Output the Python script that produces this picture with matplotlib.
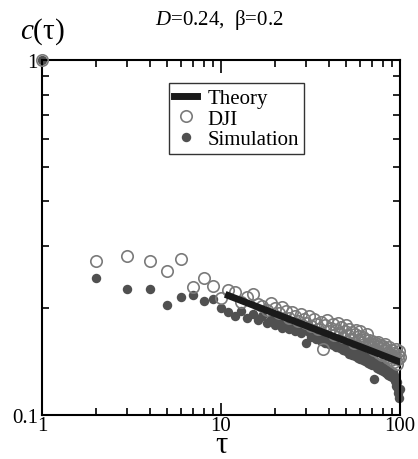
# coding:utf-8
"""
c(tau) for DJI vs simulation, log-log, with theory line
"""

import matplotlib.pyplot as plt
import matplotlib.ticker as ticker

plt.rcParams['font.family'] = ['Liberation Serif', 'DejaVu Serif']
plt.rcParams['mathtext.fontset'] = 'custom'
plt.rcParams['mathtext.it'] = 'Liberation Serif:italic'
plt.rcParams['mathtext.rm'] = 'Liberation Serif'

# tau = 1..11 read one by one, then 12..100
tau = list(range(1, 101))

dji_c = [1.0, 0.271, 0.280, 0.271, 0.255, 0.276, 0.229, 0.244, 0.231, 0.213, 0.225,
         0.222, 0.208, 0.215, 0.219, 0.206, 0.203, 0.198, 0.207, 0.200,
         0.194, 0.201, 0.196, 0.188, 0.195, 0.190, 0.184, 0.193, 0.187, 0.182,
         0.190, 0.178, 0.186, 0.181, 0.175, 0.183, 0.153, 0.179, 0.185, 0.172,
         0.176, 0.181, 0.168, 0.174, 0.182, 0.170, 0.177, 0.166, 0.173, 0.179,
         0.168, 0.175, 0.164, 0.171, 0.160, 0.169, 0.174, 0.163, 0.167, 0.172,
         0.161, 0.166, 0.158, 0.164, 0.169, 0.157, 0.163, 0.160, 0.155, 0.162,
         0.158, 0.152, 0.160, 0.156, 0.161, 0.150, 0.157, 0.154, 0.148, 0.156,
         0.152, 0.158, 0.147, 0.153, 0.150, 0.145, 0.155, 0.149, 0.143, 0.152,
         0.147, 0.141, 0.150, 0.145, 0.153, 0.139, 0.148, 0.144, 0.151, 0.146]

sim_c = [1.0, 0.243, 0.226, 0.226, 0.204, 0.215, 0.218, 0.210, 0.212, 0.200, 0.195,
         0.190, 0.197, 0.188, 0.193, 0.185, 0.190, 0.182, 0.187, 0.179,
         0.184, 0.176, 0.181, 0.175, 0.179, 0.172, 0.177, 0.170, 0.174, 0.160,
         0.171, 0.166, 0.172, 0.164, 0.169, 0.162, 0.167, 0.160, 0.165, 0.158,
         0.163, 0.157, 0.161, 0.155, 0.160, 0.154, 0.158, 0.152, 0.157, 0.151,
         0.155, 0.149, 0.154, 0.148, 0.152, 0.147, 0.151, 0.145, 0.150, 0.144,
         0.148, 0.143, 0.147, 0.142, 0.146, 0.140, 0.145, 0.139, 0.143, 0.138,
         0.142, 0.126, 0.141, 0.136, 0.140, 0.135, 0.139, 0.134, 0.138, 0.133,
         0.137, 0.132, 0.136, 0.131, 0.135, 0.130, 0.134, 0.129, 0.133, 0.128,
         0.132, 0.127, 0.130, 0.125, 0.121, 0.124, 0.118, 0.115, 0.112, 0.118]

theory_tau = [11, 100]
theory_c = [0.217, 0.141]


fig = plt.figure(figsize=(4.18, 4.6), dpi=100)
ax = fig.add_axes([0.1005, 0.0957, 0.8565, 0.7713])

ax.plot(tau, sim_c, 'o', color='#505050', markersize=6.8, markeredgewidth=0,
        label='Simulation', clip_on=False, zorder=2)
ax.plot(tau, dji_c, 'o', markerfacecolor='none', markeredgecolor='#7a7a7a',
        markersize=8.2, markeredgewidth=1.2, label='DJI', clip_on=False, zorder=3)
ax.plot(theory_tau, theory_c, '-', color='#1a1a1a', linewidth=5,
        label='Theory', zorder=4)

ax.set_xscale('log')
ax.set_yscale('log')
ax.set_xlim(1, 100)
ax.set_ylim(0.1, 1)

ax.xaxis.set_major_locator(ticker.FixedLocator([1, 10, 100]))
ax.xaxis.set_major_formatter(ticker.FixedFormatter(['1', '10', '100']))
ax.yaxis.set_major_locator(ticker.FixedLocator([0.1, 1]))
ax.yaxis.set_major_formatter(ticker.FixedFormatter(['0.1', '1']))
ax.xaxis.set_minor_locator(ticker.LogLocator(base=10, subs=range(2, 10)))
ax.yaxis.set_minor_locator(ticker.LogLocator(base=10, subs=range(2, 10)))
ax.xaxis.set_minor_formatter(ticker.NullFormatter())
ax.yaxis.set_minor_formatter(ticker.NullFormatter())

ax.tick_params(which='both', direction='in', top=True, right=True,
               labelsize=15, width=1.2)
ax.tick_params(axis='x', pad=1)
ax.tick_params(axis='y', pad=3)
ax.tick_params(which='major', length=9)
ax.tick_params(which='minor', length=5)
for sp in ax.spines.values():
    sp.set_linewidth(1.5)

# x label placed by hand so it sits just above the bottom edge
fig.text(0.5287, 0.0155, 'τ', fontsize=22, ha='center', va='baseline')
ax.text(0.0, 1.04, '$c$(τ)', transform=ax.transAxes, fontsize=21,
        ha='center', va='bottom')
fig.text(0.525, 0.957, '$D$=0.24,  β=0.2', fontsize=15, ha='center',
         va='center')

handles, labels = ax.get_legend_handles_labels()
order = [2, 1, 0]
leg = ax.legend([handles[i] for i in order], [labels[i] for i in order],
                loc='upper left', bbox_to_anchor=(0.355, 0.935), fontsize=15,
                frameon=True, fancybox=False, edgecolor='black',
                handlelength=1.1, handletextpad=0.5, borderpad=0.25,
                labelspacing=0.05, borderaxespad=0)
leg.get_frame().set_linewidth(1.0)

plt.savefig('out.png', dpi=100)
